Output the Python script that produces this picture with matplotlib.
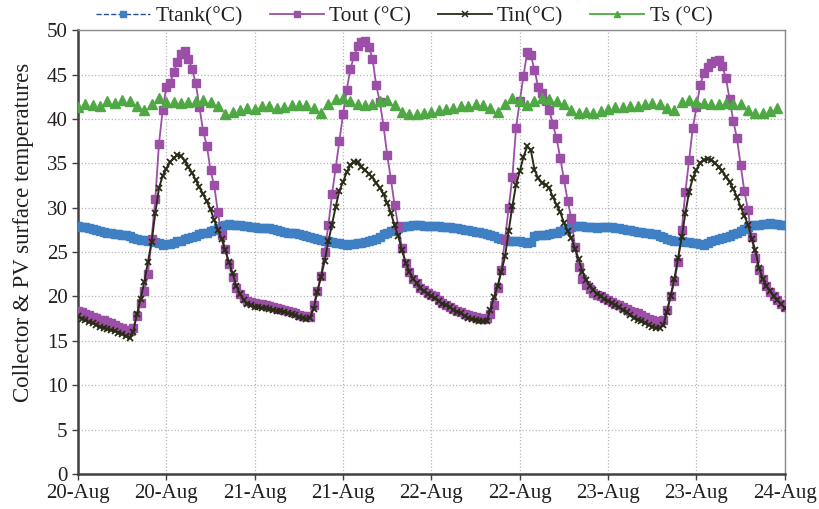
import numpy as np
import pandas as pd
import matplotlib
matplotlib.use("Agg")
import matplotlib.pyplot as plt
import matplotlib.dates as mdates
from matplotlib.lines import Line2D

# -----------------------------
# Data (30-min steps; Ts hourly)
# -----------------------------
t_half = pd.date_range("2019-08-20 00:00", "2019-08-24 00:00", freq="30min")
t_hour = pd.date_range("2019-08-20 00:00", periods=96, freq="60min")

ttank = [
    27.9, 27.8, 27.8, 27.7, 27.6, 27.5, 27.4, 27.3, 27.2, 27.1, 27.0, 27.0, 26.9, 26.9, 26.8, 26.6,
    26.5, 26.4, 26.4, 26.3, 26.2, 26.1, 26.0, 25.8, 25.9, 25.9, 26.0, 26.2, 26.3, 26.5, 26.6, 26.7,
    26.8, 27.0, 27.1, 27.2, 27.4, 27.5, 27.7, 27.9, 28.0, 28.2, 28.1, 28.0, 28.0, 27.9, 27.9, 27.8,
    27.8, 27.7, 27.7, 27.7, 27.7, 27.6, 27.5, 27.4, 27.3, 27.2, 27.2, 27.1, 27.0, 26.9, 26.8, 26.7,
    26.6, 26.5, 26.4, 26.3, 26.2, 26.1, 26.0, 26.0, 25.9, 25.8, 25.9, 25.9, 26.0, 26.0, 26.1, 26.2,
    26.4, 26.5, 26.7, 27.0, 27.2, 27.4, 27.5, 27.7, 27.8, 27.9, 27.9, 28.0, 28.0, 28.0, 27.9, 27.9,
    27.9, 27.9, 27.9, 27.8, 27.8, 27.8, 27.7, 27.7, 27.6, 27.5, 27.5, 27.4, 27.3, 27.3, 27.2, 27.0,
    26.9, 26.8, 26.6, 26.5, 26.4, 26.3, 26.3, 26.2, 26.2, 26.1, 26.0, 26.1, 26.8, 26.9, 26.9, 26.9,
    27.0, 27.1, 27.2, 27.4, 27.5, 27.7, 27.8, 27.9, 27.9, 27.9, 27.8, 27.8, 27.8, 27.7, 27.8, 27.8,
    27.8, 27.8, 27.7, 27.7, 27.6, 27.5, 27.5, 27.4, 27.3, 27.3, 27.2, 27.1, 27.0, 27.0, 26.8, 26.7,
    26.5, 26.4, 26.3, 26.2, 26.2, 26.1, 26.1, 26.0, 26.0, 25.9, 25.8, 26.0, 26.2, 26.4, 26.5, 26.6,
    26.7, 26.8, 27.0, 27.2, 27.4, 27.6, 27.8, 28.0, 28.1, 28.1, 28.2, 28.2, 28.3, 28.2, 28.2, 28.1,
    28.1,
]

tout = [
    18.4, 18.2, 18.0, 17.9, 17.7, 17.6, 17.4, 17.3, 17.1, 17.0, 16.8, 16.6, 16.4, 16.2, 16.1, 16.5,
    17.8, 19.3, 20.6, 22.5, 26.5, 31.0, 37.2, 41.0, 43.6, 44.0, 45.3, 46.4, 47.3, 47.6, 46.8, 45.6,
    44.0, 41.3, 38.6, 37.0, 34.2, 32.5, 29.5, 26.9, 25.3, 23.7, 22.2, 21.0, 20.3, 19.8, 19.5, 19.4,
    19.3, 19.2, 19.1, 19.0, 18.9, 18.8, 18.7, 18.6, 18.5, 18.4, 18.2, 18.1, 17.9, 17.8, 17.8, 17.7,
    19.0, 20.6, 22.3, 25.0, 28.0, 31.5, 34.5, 37.5, 40.5, 43.3, 45.6, 47.1, 48.2, 48.7, 48.8, 48.1,
    46.8, 43.8, 41.9, 39.2, 35.9, 33.2, 30.3, 27.9, 25.5, 23.8, 22.8, 22.0, 21.5, 21.0, 20.7, 20.4,
    20.2, 20.0, 19.6, 19.3, 19.0, 18.8, 18.6, 18.4, 18.2, 18.0, 17.9, 17.8, 17.7, 17.6, 17.5, 17.6,
    18.0, 19.0, 21.0, 23.0, 26.5, 30.0, 33.5, 39.0, 42.0, 44.8, 47.5, 47.2, 45.5, 43.6, 42.9, 42.0,
    41.0, 39.4, 37.8, 35.6, 33.2, 30.8, 28.8, 25.6, 23.3, 22.0, 21.3, 20.8, 20.4, 20.2, 20.0, 19.8,
    19.6, 19.4, 19.2, 19.0, 18.8, 18.6, 18.4, 18.2, 18.1, 17.9, 17.7, 17.5, 17.3, 17.2, 17.1, 17.3,
    18.5, 20.0, 21.7, 23.9, 27.5, 31.8, 35.4, 39.0, 41.3, 43.8, 45.2, 45.9, 46.3, 46.5, 46.6, 46.0,
    44.6, 42.2, 39.8, 37.8, 34.8, 31.9, 29.7, 26.7, 24.3, 23.0, 22.0, 21.2, 20.5, 20.0, 19.6, 19.2,
    18.8,
]

tin = [
    17.8, 17.5, 17.3, 17.1, 17.0, 16.8, 16.6, 16.5, 16.3, 16.2, 16.1, 15.9, 15.8, 15.5, 15.3, 16.0,
    18.0, 19.7, 21.6, 23.9, 26.1, 29.4, 32.2, 33.6, 34.4, 35.1, 35.6, 35.9, 35.8, 35.3, 34.6, 33.9,
    33.1, 32.3, 31.5, 30.7, 29.8, 28.6, 27.5, 26.5, 25.2, 23.9, 22.6, 21.2, 20.3, 19.6, 19.2, 19.0,
    18.8, 18.8, 18.7, 18.7, 18.6, 18.5, 18.4, 18.4, 18.3, 18.1, 18.0, 17.9, 17.7, 17.6, 17.5, 17.6,
    18.6, 20.5, 22.2, 24.0, 26.2, 28.1, 30.1, 31.9, 32.9, 34.0, 34.8, 35.2, 35.1, 34.6, 34.2, 33.8,
    33.4, 32.8, 32.2, 31.5, 30.5, 29.4, 28.0, 26.8, 25.2, 23.8, 22.8, 22.0, 21.5, 21.0, 20.6, 20.3,
    20.0, 19.8, 19.5, 19.2, 19.0, 18.8, 18.5, 18.3, 18.1, 17.8, 17.6, 17.5, 17.3, 17.2, 17.2, 17.2,
    18.5, 19.9, 21.2, 22.8, 24.5, 27.4, 30.2, 32.6, 34.1, 35.7, 36.9, 36.5, 34.3, 33.3, 32.8, 32.6,
    32.2, 31.2, 30.3, 29.5, 28.3, 27.4, 26.6, 25.4, 24.2, 22.8, 21.9, 21.2, 20.7, 20.3, 20.0, 19.7,
    19.5, 19.3, 19.0, 18.8, 18.5, 18.2, 17.9, 17.6, 17.4, 17.2, 17.0, 16.8, 16.6, 16.5, 16.4, 16.8,
    18.3, 20.1, 22.0, 24.3, 26.7, 29.4, 31.8, 33.3, 34.3, 35.0, 35.4, 35.5, 35.4, 35.0, 34.6, 34.1,
    33.5, 32.9, 32.1, 31.2, 30.1, 29.1, 28.1, 26.5, 25.2, 23.2, 22.0, 21.2, 20.6, 20.0, 19.6, 19.1,
    18.7,
]

ts = [
    41.3, 41.7, 41.6, 41.5, 42.0, 41.8, 42.1, 42.0, 41.5, 41.0, 41.7, 42.3,
    41.9, 41.9, 41.8, 41.9, 42.0, 42.1, 41.9, 41.5, 40.6, 40.8, 41.0, 41.2,
    41.1, 41.4, 41.5, 41.25, 41.3, 41.55, 41.55, 41.55, 41.2, 40.7, 41.7, 42.2,
    42.3, 42.0, 41.7, 41.6, 41.7, 42.0, 42.1, 41.6, 40.8, 40.6, 40.6, 40.7,
    40.8, 41.0, 41.1, 41.25, 41.4, 41.5, 41.7, 41.6, 41.25, 40.8, 41.7, 42.3,
    42.0, 41.55, 42.0, 42.3, 42.2, 42.0, 41.7, 41.0, 40.7, 40.8, 40.7, 40.9,
    41.15, 41.3, 41.3, 41.4, 41.4, 41.7, 41.8, 41.7, 41.25, 41.0, 41.9, 42.1,
    41.9, 41.8, 41.7, 41.7, 41.8, 41.7, 41.7, 41.0, 40.7, 40.7, 40.9, 41.25,
]

# -----------------------------
# Style
# -----------------------------
plt.rcParams['font.family'] = ['Liberation Serif', 'DejaVu Serif']
plt.rcParams['font.size'] = 15
text_col = "#231f20"

c_tank = "#3f7fc4"
c_tank_line = "#2c4d8f"
c_out = "#9b4fa6"
c_in = "#2a2c17"
c_s = "#4ea843"

fig = plt.figure(figsize=(8.2, 5.09), dpi=100)
ax = fig.add_axes([0.0951, 0.0688, 0.862, 0.872])

ax.plot(t_half, ttank, linestyle="--", color=c_tank_line, lw=1.0,
        marker="s", ms=5.2, mfc=c_tank, mec=c_tank, zorder=3)
ax.plot(t_half, tout, linestyle="-", color=c_out, lw=1.3,
        marker="s", ms=5.6, mfc=c_out, mec=c_out, zorder=4)
ax.plot(t_half, tin, linestyle="-", color=c_in, lw=1.4,
        marker="x", ms=4.6, mew=1.3, mfc=c_in, mec=c_in, zorder=5)
ax.plot(t_hour, ts, linestyle="none",
        marker="^", ms=7, mfc=c_s, mec=c_s, zorder=6)

# -----------------------------
# Axes
# -----------------------------
ax.set_ylim(0, 50)
ax.set_yticks(np.arange(0, 51, 5))
ax.set_xlim(t_half[0], t_half[-1])
ax.xaxis.set_major_locator(mdates.HourLocator(byhour=[0, 12]))
ax.xaxis.set_major_formatter(mdates.DateFormatter("%d-%b"))

ax.grid(True, linestyle=":", color="#b5b5b5", lw=0.9)
ax.set_axisbelow(True)
for side in ["left", "bottom"]:
    ax.spines[side].set_color("#404040")
    ax.spines[side].set_linewidth(1.8)
for side in ["top", "right"]:
    ax.spines[side].set_color("#8a8a8a")
    ax.spines[side].set_linewidth(1.0)
ax.tick_params(axis="both", direction="out", length=4, width=1, color="#404040",
               labelcolor=text_col, labelsize=15)

ax.set_ylabel("Collector & PV surface temperatures", color=text_col, fontsize=16.5)
ax.yaxis.set_label_coords(-0.062, 0.545)

# -----------------------------
# Legend
# -----------------------------
handles = [
    Line2D([], [], linestyle="--", color=c_tank_line, lw=1.0, marker="s", ms=4.5,
           mfc=c_tank, mec=c_tank),
    Line2D([], [], linestyle="-", color=c_out, lw=1.3, marker="s", ms=5.0,
           mfc=c_out, mec=c_out),
    Line2D([], [], linestyle="-", color=c_in, lw=1.3, marker="x", ms=4.0, mew=1.1,
           mec=c_in),
    Line2D([], [], linestyle="-", color=c_s, lw=1.3, marker="^", ms=5.0,
           mfc=c_s, mec=c_s),
]
labels = ["Ttank(°C)", "Tout (°C)", "Tin(°C)", "Ts (°C)"]
leg = fig.legend(handles, labels, loc="center", bbox_to_anchor=(0.493, 0.967), ncol=4,
                 frameon=False, fontsize=15.5, handlelength=2.5, handletextpad=0.25,
                 columnspacing=1.25)
for txt in leg.get_texts():
    txt.set_color(text_col)

fig.savefig("out.png", dpi=100)
